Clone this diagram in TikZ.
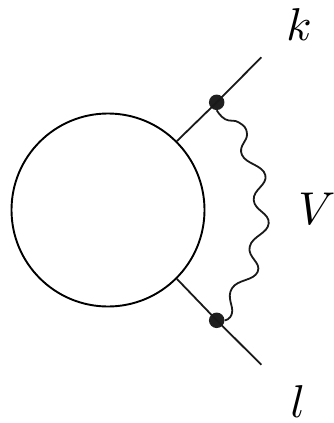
\documentclass[tikz,border=0pt]{standalone}
\tikzset{
  pxgrid/.style={x=1pt,y=-1pt},
  blob/.style={circle,draw=black,line width=1.9pt,minimum size=193pt,inner sep=0pt},
  vertex/.style={circle,fill=black!88,draw=none,minimum size=15.5pt,inner sep=0pt},
  leg/.style={line width=1.8pt,black!90},
  wavy/.style={line width=1.8pt,black!90},
  lab/.style={inner sep=0pt,scale=4.6}
}
\begin{document}
\begin{tikzpicture}[pxgrid]
\useasboundingbox (0,0) rectangle (334,423);
\node[blob] (b) at (108,210) {};
\coordinate (ke) at (261.3,57.3);
\coordinate (le) at (261.3,364.7);
\node[vertex] (t) at (216.7,102.3) {};
\node[vertex] (u) at (216.7,320.3) {};
\draw[leg] (b.45) -- (t.center) -- (ke);
\draw[leg] (b.-45) -- (u.center) -- (le);
\draw[wavy] plot[smooth,tension=0.8] coordinates {(t.south) (225.3,119.3) (239,122.5) (247,134) (242,155) (265.3,175) (253.7,200) (268.7,223.3) (249.7,246.7) (257.7,271.7) (232,288.3) (232,313) (u.east)};
\node[lab] (k) at (299,24.5) {$k$};
\node[lab] (v) at (317,208.5) {$V$};
\node[lab] (l) at (298,401.5) {$l$};
\end{tikzpicture}
\end{document}
